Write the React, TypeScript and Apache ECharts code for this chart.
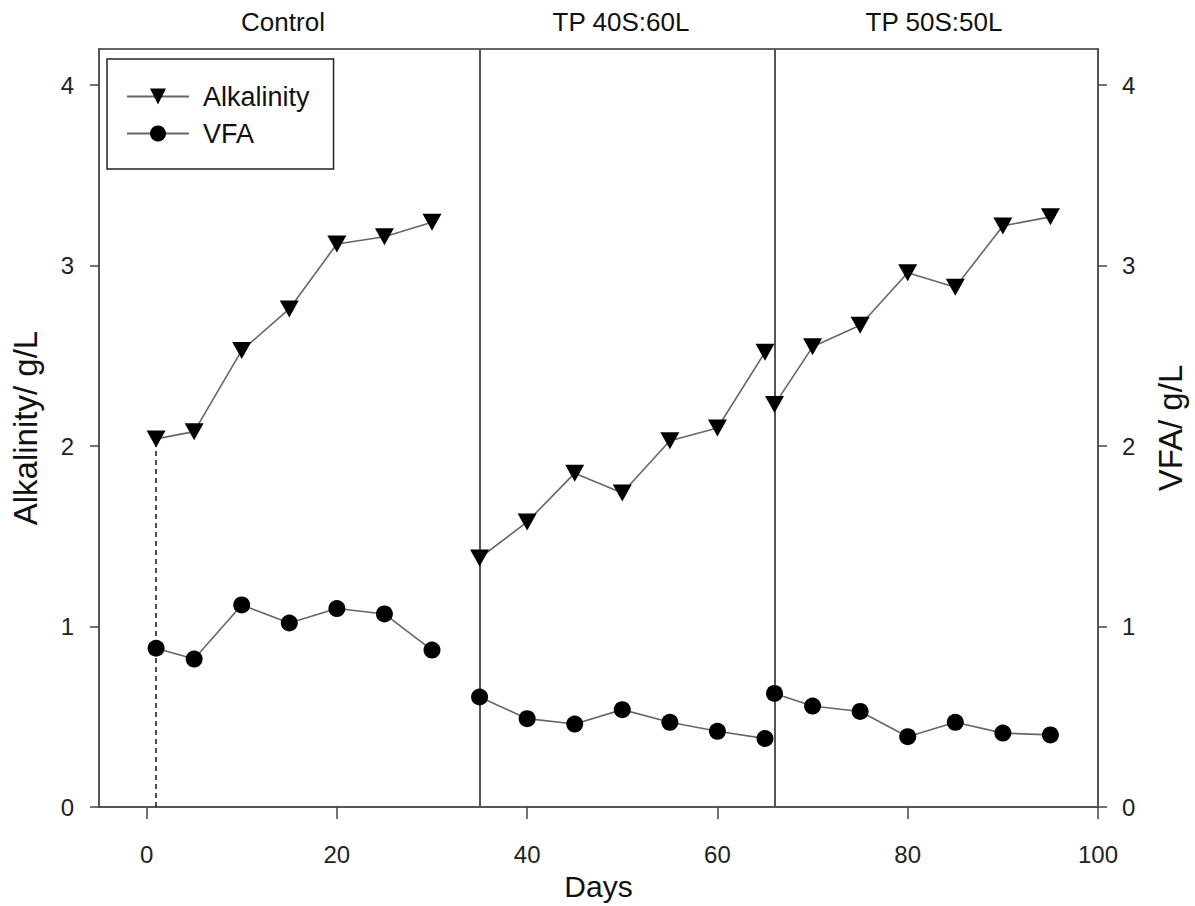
import React, { useEffect, useRef } from "react";
import * as echarts from "echarts";

// Days of each treatment phase
const controlDays = [1, 5, 10, 15, 20, 25, 30];
const tp40Days = [35, 40, 45, 50, 55, 60, 65];
const tp50Days = [66, 70, 75, 80, 85, 90, 95];

// Alkalinity (g/L)
const alkControl = [2.04, 2.08, 2.53, 2.76, 3.12, 3.16, 3.24];
const alkTP40 = [1.38, 1.58, 1.85, 1.74, 2.03, 2.1, 2.52];
const alkTP50 = [2.23, 2.55, 2.67, 2.96, 2.88, 3.22, 3.27];

// VFA (g/L)
const vfaControl = [0.88, 0.82, 1.12, 1.02, 1.1, 1.07, 0.87];
const vfaTP40 = [0.61, 0.49, 0.46, 0.54, 0.47, 0.42, 0.38];
const vfaTP50 = [0.63, 0.56, 0.53, 0.39, 0.47, 0.41, 0.4];

const phaseLabels = ["Control", "TP 40S:60L", "TP 50S:50L"];
const phaseBoundaries = [35, 66];
const xTicks = [0, 20, 40, 60, 80, 100];
const yTicks = [0, 1, 2, 3, 4];

const FONT = "'Liberation Sans', Arial, sans-serif";

function buildSeries(days: number[][], vals: number[][]) {
  const out: any[] = [];
  days.forEach((d, i) => {
    if (i > 0) out.push([d[0] - 0.5, "-"]);
    d.forEach((x, j) => out.push([x, vals[i][j]]));
  });
  return out;
}

export default function App() {
  const ref = useRef<HTMLDivElement>(null);
  useEffect(() => {
    if (!ref.current) return;
    const chart = echarts.init(ref.current, undefined, { renderer: "svg" });
    const days = [controlDays, tp40Days, tp50Days];
    const axisLine = { show: true, onZero: false, lineStyle: { color: "#555", width: 2 } };
    const option: any = {
      animation: false,
      backgroundColor: "#fff",
      grid: {
        left: 99,
        right: 97,
        top: 49,
        bottom: 93,
        show: true,
        borderColor: "#666",
        borderWidth: 2,
      },
      legend: {
        orient: "vertical",
        left: 107,
        top: 59,
        data: ["Alkalinity", "VFA"],
        borderColor: "#222",
        borderWidth: 1.5,
        padding: [24, 24, 22, 19],
        itemWidth: 62,
        itemHeight: 20,
        itemGap: 10,
        textStyle: { fontFamily: FONT, fontSize: 27, color: "#111", padding: [0, 0, 0, 9] },
      },
      xAxis: {
        type: "value",
        min: -5,
        max: 100,
        name: "Days",
        nameLocation: "middle",
        nameGap: 56,
        nameTextStyle: { fontFamily: FONT, fontSize: 30, color: "#111" },
        axisLine,
        axisTick: { show: true, length: 12, lineStyle: { color: "#444", width: 1.5 }, customValues: xTicks },
        axisLabel: { fontFamily: FONT, fontSize: 24, color: "#222", margin: 35, customValues: xTicks },
        splitLine: { show: false },
      },
      yAxis: [
        {
          type: "value",
          min: 0,
          max: 4.2,
          name: "Alkalinity/ g/L",
          nameLocation: "middle",
          nameRotate: 90,
          nameGap: 57,
          nameTextStyle: { fontFamily: FONT, fontSize: 33, color: "#111" },
          axisLine,
          axisTick: { show: true, length: 9, lineStyle: { color: "#444", width: 1.5 }, customValues: yTicks },
          axisLabel: { fontFamily: FONT, fontSize: 24, color: "#222", margin: 25, customValues: yTicks },
          splitLine: { show: false },
        },
        {
          type: "value",
          min: 0,
          max: 4.2,
          position: "right",
          name: "VFA/ g/L",
          nameLocation: "middle",
          nameRotate: 90,
          nameGap: 56,
          nameTextStyle: { fontFamily: FONT, fontSize: 33, color: "#111" },
          axisLine,
          axisTick: { show: true, length: 9, lineStyle: { color: "#444", width: 1.5 }, customValues: yTicks },
          axisLabel: { fontFamily: FONT, fontSize: 24, color: "#222", margin: 24, customValues: yTicks },
          splitLine: { show: false },
        },
      ],
      series: [
        {
          name: "Alkalinity",
          type: "line",
          yAxisIndex: 0,
          data: buildSeries(days, [alkControl, alkTP40, alkTP50]),
          connectNulls: false,
          symbol: "triangle",
          symbolRotate: 180,
          symbolSize: [19, 17],
          itemStyle: { color: "#000" },
          lineStyle: { color: "#666", width: 1.6 },
          z: 5,
          markLine: {
            silent: true,
            symbol: ["none", "none"],
            label: { show: false },
            lineStyle: { color: "#555", width: 2, type: "solid" },
            data: [
              ...phaseBoundaries.map((b) => ({ xAxis: b })),
              [
                { coord: [controlDays[0], 0], lineStyle: { color: "#111", width: 1.5, type: [5, 4] } },
                { coord: [controlDays[0], alkControl[0]] },
              ],
            ],
            z: 2,
          },
        },
        {
          name: "VFA",
          type: "line",
          yAxisIndex: 1,
          data: buildSeries(days, [vfaControl, vfaTP40, vfaTP50]),
          connectNulls: false,
          symbol: "circle",
          symbolSize: 17,
          itemStyle: { color: "#000" },
          lineStyle: { color: "#666", width: 1.6 },
          z: 5,
        },
      ],
      graphic: [
        { type: "text", x: 283, y: 22, style: { text: phaseLabels[0], font: `26px ${FONT}`, fill: "#111", align: "center", verticalAlign: "middle" } },
        { type: "text", x: 621, y: 22, style: { text: phaseLabels[1], font: `26px ${FONT}`, fill: "#111", align: "center", verticalAlign: "middle" } },
        { type: "text", x: 934, y: 22, style: { text: phaseLabels[2], font: `26px ${FONT}`, fill: "#111", align: "center", verticalAlign: "middle" } },
      ],
    };
    chart.setOption(option);
    return () => chart.dispose();
  }, []);
  return (
    <div
      ref={ref}
      style={{ position: "absolute", left: 0, top: 0, width: 1195, height: 906, background: "#fff" }}
    />
  );
}
